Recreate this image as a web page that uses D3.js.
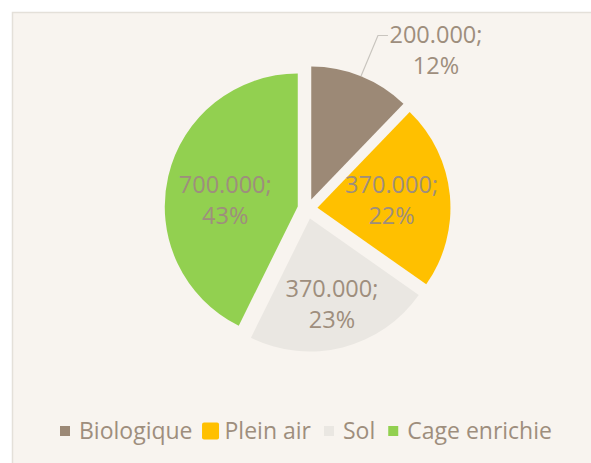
<!DOCTYPE html>
<html>
<head>
<meta charset="utf-8">
<script src="https://cdn.jsdelivr.net/npm/d3@7"></script>
<style>
  body { margin: 0; background: #fff; }
  svg text { font-family: "Open Sans", sans-serif; }
</style>
</head>
<body>
<div id="chart"></div>
<script>
// data
var categories = ["Biologique", "Plein air", "Sol", "Cage enrichie"];
var values = [200000, 370000, 370000, 700000];
var valueLabels = ["200.000;", "370.000;", "370.000;", "700.000;"];
var percentLabels = ["12%", "22%", "23%", "43%"];
var colors = ["#9C8976", "#FFC000", "#EAE7E2", "#92D050"];

var svgWidth = 591, svgHeight = 463;
var textColor = "#9E8E7D";

var svg = d3.select("#chart").append("svg")
    .attr("width", svgWidth)
    .attr("height", svgHeight);

// chart area
svg.append("rect")
    .attr("x", 12.5).attr("y", 12.5)
    .attr("width", 620).attr("height", 480)
    .attr("fill", "#F8F4EF")
    .attr("stroke", "#E4E0D9")
    .attr("stroke-width", 1.5);

var cx = 307.5, cy = 208.8, radius = 133, explode = 10;

var pie = d3.pie().sort(null).value(d => d)(values);
var arc = d3.arc().innerRadius(0).outerRadius(radius);

var pieGroup = svg.append("g").attr("transform", `translate(${cx}, ${cy})`);

function offset(d, dist) {
    var mid = (d.startAngle + d.endAngle) / 2;
    return [Math.sin(mid) * dist, -Math.cos(mid) * dist];
}

var slices = pieGroup.selectAll("g.slice")
    .data(pie)
    .enter()
    .append("g")
    .attr("class", "slice")
    .attr("transform", d => {
        var o = offset(d, explode);
        return `translate(${o[0]}, ${o[1]})`;
    });

slices.append("path")
    .attr("d", arc)
    .attr("fill", (d, i) => colors[i]);

// how far from the slice centre each label sits (fraction of radius), 0 = outside
var labelFrac = [0, 0.56, 0.67, 0.56];

slices.each(function(d, i) {
    var g = d3.select(this);
    if (labelFrac[i] > 0) {
        var p = offset(d, radius * labelFrac[i]);
        if (i === 3) p[1] = -6;
        var t = g.append("text")
            .attr("x", p[0])
            .attr("y", p[1] - 8)
            .attr("text-anchor", "middle")
            .attr("fill", textColor)
            .style("font-size", "23.5px");
        t.append("tspan").attr("x", p[0]).attr("dy", 0).text(valueLabels[i]);
        t.append("tspan").attr("x", p[0]).attr("dy", 31).text(percentLabels[i]);
    } else {
        // outside label with a leader line
        var e = offset(d, radius);
        var lx = e[0] + 17, ly = -164;
        g.append("polyline")
            .attr("points", `${e[0]},${e[1]} ${lx},${ly} ${lx + 10},${ly}`)
            .attr("fill", "none")
            .attr("stroke", "#C9C5BF")
            .attr("stroke-width", 1.2);
        var t2 = g.append("text")
            .attr("x", lx + 58)
            .attr("y", ly + 7)
            .attr("text-anchor", "middle")
            .attr("fill", textColor)
            .style("font-size", "23.5px");
        t2.append("tspan").attr("x", lx + 58).attr("dy", 0).text(valueLabels[i]);
        t2.append("tspan").attr("x", lx + 58).attr("dy", 31).text(percentLabels[i]);
    }
});

// legend
var legend = svg.append("g").attr("transform", "translate(0, 431)");
var lx0 = 60;
categories.forEach((c, i) => {
    var size = i === 1 ? 17 : 10;
    var centre = lx0 + 5;
    legend.append("rect")
        .attr("x", centre - size / 2)
        .attr("y", -size / 2)
        .attr("width", size).attr("height", size)
        .attr("rx", i === 1 ? 2 : 0)
        .attr("fill", colors[i]);
    var txt = legend.append("text")
        .attr("x", lx0 + 19)
        .attr("y", 8)
        .attr("fill", textColor)
        .style("font-size", "23px")
        .text(c);
    lx0 = lx0 + 19 + txt.node().getComputedTextLength() + 13;
});
</script>
</body>
</html>
